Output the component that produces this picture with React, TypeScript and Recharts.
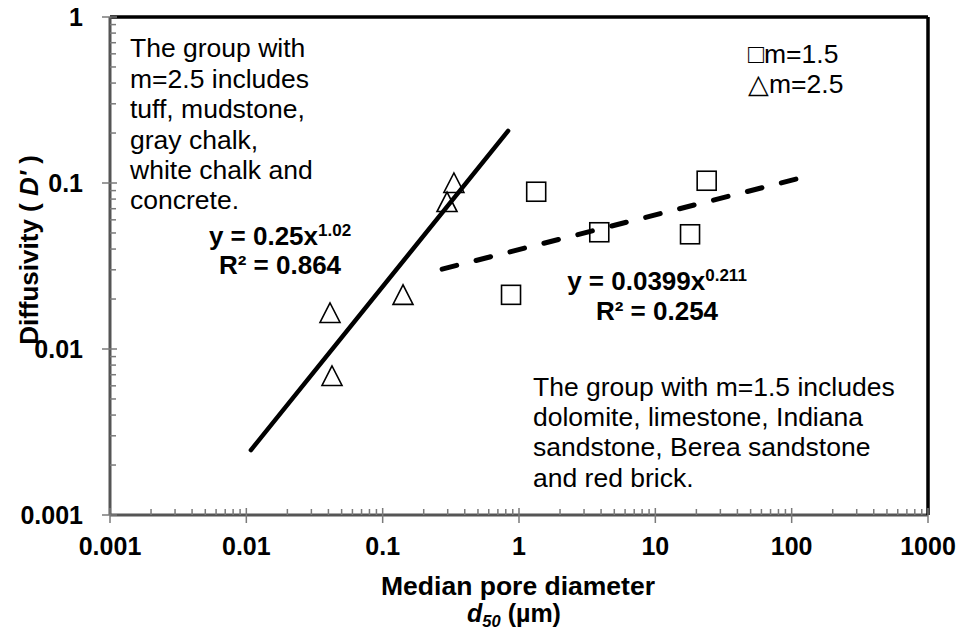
import React from "react";
import { ScatterChart, Scatter, XAxis, YAxis, Customized } from "recharts";

const FONT = "'Liberation Sans', Arial, sans-serif";
const AXIS_GRAY = "#555555";
const TICK_GRAY = "#7a7a7a";

// log axis ticks
const xTicks = [0.001, 0.01, 0.1, 1, 10, 100, 1000];
const yTicks = [0.001, 0.01, 0.1, 1];

// m = 1.5 group (squares)
const m15X = [0.874, 1.337, 3.88, 17.97, 23.8];
const m15Y = [0.0212, 0.0886, 0.0505, 0.0491, 0.1032];

// m = 2.5 group (triangles)
const m25X = [0.0411, 0.0425, 0.141, 0.2965, 0.333];
const m25Y = [0.01648, 0.00688, 0.0212, 0.0768, 0.1];

// power-law trendlines, end points
const fit25X = [0.0108, 0.832];
const fit25Y = [0.00246, 0.206];
const fit15X = [0.273, 125.6];
const fit15Y = [0.0303, 0.109];

const groupA = [
  "The group with",
  "m=2.5 includes",
  "tuff, mudstone,",
  "gray chalk,",
  "white chalk and",
  "concrete.",
];
const groupB = [
  "The group with m=1.5 includes",
  "dolomite, limestone, Indiana",
  "sandstone, Berea sandstone",
  "and red brick.",
];

const toPoints = (xs: number[], ys: number[]) => xs.map((x, i) => ({ x, y: ys[i] }));

// majors plus 2..9 of every decade
const withMinor = (ticks: number[]) => {
  const out: number[] = [];
  ticks.slice(0, -1).forEach((d) => {
    for (let k = 1; k <= 9; k++) out.push(Number((d * k).toPrecision(3)));
  });
  out.push(ticks[ticks.length - 1]);
  return out;
};

const TICK_SIZE = 8;
const X_MARGIN = 14;
const Y_MARGIN = 19;

const labelStyle = { fill: "#000", fontSize: 25, fontWeight: "bold" as const, fontFamily: FONT };

const XTick = (p: any) => {
  const v = p.payload.value;
  const major = xTicks.includes(v);
  const axisY = p.y - TICK_SIZE - X_MARGIN;
  return (
    <g>
      <line
        x1={p.x}
        x2={p.x}
        y1={axisY - (major ? 7 : 6)}
        y2={axisY + (major ? TICK_SIZE : 0)}
        stroke={TICK_GRAY}
        strokeWidth={1.5}
      />
      {major && (
        <text x={p.x} y={p.y} dy="0.71em" textAnchor="middle" {...labelStyle}>
          {String(v)}
        </text>
      )}
    </g>
  );
};

const YTick = (p: any) => {
  const v = p.payload.value;
  const major = yTicks.includes(v);
  const axisX = p.x + TICK_SIZE + Y_MARGIN;
  return (
    <g>
      <line
        x1={axisX - (major ? TICK_SIZE : 0)}
        x2={axisX + (major ? 7 : 6)}
        y1={p.y}
        y2={p.y}
        stroke={TICK_GRAY}
        strokeWidth={1.5}
      />
      {major && (
        <text x={p.x} y={p.y} dy="0.355em" textAnchor="end" {...labelStyle}>
          {String(v)}
        </text>
      )}
    </g>
  );
};

const Square = (p: any) => (
  <rect x={p.cx - 9.5} y={p.cy - 9.5} width={19} height={19} fill="none" stroke="#000" strokeWidth={1.6} />
);

const Triangle = (p: any) => (
  <polygon
    points={`${p.cx},${p.cy - 10} ${p.cx - 10},${p.cy + 9.5} ${p.cx + 10},${p.cy + 9.5}`}
    fill="none"
    stroke="#000"
    strokeWidth={1.6}
  />
);

const NoDot = () => <g />;

const Annotations = () => (
  <g fontFamily={FONT} fill="#000">
    <text fontSize={26.5}>
      {groupA.map((line, i) => (
        <tspan key={i} x={130} y={57.3 + i * 30.4}>
          {line}
        </tspan>
      ))}
    </text>
    <text fontSize={26.5}>
      {groupB.map((line, i) => (
        <tspan key={i} x={533} y={395.5 + i * 30.4}>
          {line}
        </tspan>
      ))}
    </text>

    <text fontSize={26.5} x={748} y={63}>□m=1.5</text>
    <text fontSize={26.5} x={748} y={93}>△m=2.5</text>

    <g fontWeight="bold" textAnchor="middle">
      <text fontSize={26} x={280} y={245}>
        y = 0.25x<tspan fontSize={17} dy={-9}>1.02</tspan>
      </text>
      <text fontSize={26} x={280} y={274}>R² = 0.864</text>
      <text fontSize={26} x={657} y={290}>
        y = 0.0399x<tspan fontSize={17} dy={-9}>0.211</tspan>
      </text>
      <text fontSize={26} x={657} y={320}>R² = 0.254</text>

      <text fontSize={26} transform="translate(38,250) rotate(-90)">
        Diffusivity ( <tspan fontStyle="italic">D'</tspan> )
      </text>
      <text fontSize={26.5} x={518} y={594.5}>Median pore diameter</text>
      <text fontSize={25} x={514} y={621.5}>
        <tspan fontStyle="italic">d</tspan>
        <tspan fontStyle="italic" fontSize={16.5} dy={5}>50</tspan>
        <tspan dy={-5}> (µm)</tspan>
      </text>
    </g>
  </g>
);

export default function App() {
  return (
    <div style={{ position: "absolute", left: 0, top: 0, width: 961, height: 637, background: "#fff" }}>
      <ScatterChart width={961} height={637} margin={{ top: 17, right: 33, bottom: 0, left: 0 }}>
        <XAxis
          dataKey="x"
          type="number"
          scale="log"
          domain={[0.001, 1000]}
          ticks={withMinor(xTicks)}
          interval={0}
          allowDataOverflow
          height={122}
          tickSize={TICK_SIZE}
          tickMargin={X_MARGIN}
          tick={XTick}
          tickLine={false}
          axisLine={{ stroke: AXIS_GRAY, strokeWidth: 3 }}
        />
        <XAxis
          xAxisId="top"
          type="number"
          scale="log"
          domain={[0.001, 1000]}
          allowDataOverflow
          orientation="top"
          mirror
          tick={false}
          tickLine={false}
          axisLine={{ stroke: "#000", strokeWidth: 3.5 }}
        />
        <YAxis
          dataKey="y"
          type="number"
          scale="log"
          domain={[0.001, 1]}
          ticks={withMinor(yTicks)}
          interval={0}
          allowDataOverflow
          width={110}
          tickSize={TICK_SIZE}
          tickMargin={Y_MARGIN}
          tick={YTick}
          tickLine={false}
          axisLine={{ stroke: AXIS_GRAY, strokeWidth: 3 }}
        />
        <YAxis
          yAxisId="right"
          type="number"
          scale="log"
          domain={[0.001, 1]}
          allowDataOverflow
          orientation="right"
          mirror
          tick={false}
          tickLine={false}
          axisLine={{ stroke: "#000", strokeWidth: 3.5 }}
        />

        <Scatter name="m=1.5" data={toPoints(m15X, m15Y)} shape={Square} isAnimationActive={false} />
        <Scatter name="m=2.5" data={toPoints(m25X, m25Y)} shape={Triangle} isAnimationActive={false} />

        <Scatter
          name="fit m=2.5"
          data={toPoints(fit25X, fit25Y)}
          shape={NoDot}
          line={{ stroke: "#000", strokeWidth: 4.5, strokeLinecap: "round" }}
          isAnimationActive={false}
        />
        <Scatter
          name="fit m=1.5"
          data={toPoints(fit15X, fit15Y)}
          shape={NoDot}
          line={{ stroke: "#000", strokeWidth: 5, strokeLinecap: "round", strokeDasharray: "15 20" }}
          isAnimationActive={false}
        />

        <Customized component={Annotations} />
      </ScatterChart>
    </div>
  );
}
